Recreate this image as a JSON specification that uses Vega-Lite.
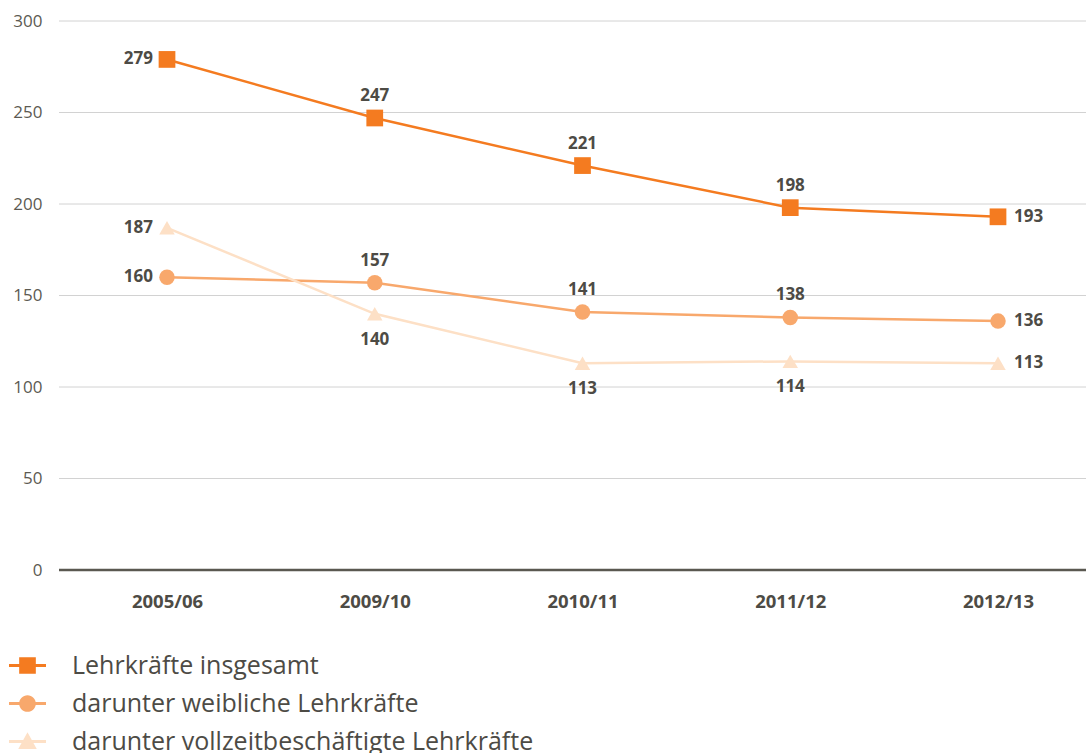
{
  "$schema": "https://vega.github.io/schema/vega-lite/v6.json",
  "width": 1027,
  "height": 549,
  "autosize": "none",
  "padding": {"left": 59, "top": 21, "right": 0, "bottom": 183},
  "config": {"view": {"stroke": null}, "font": "Open Sans"},
  "datasets": {
    "werte": [
      {"jahr": "2005/06", "reihe": "Lehrkräfte insgesamt", "wert": 279},
      {"jahr": "2009/10", "reihe": "Lehrkräfte insgesamt", "wert": 247},
      {"jahr": "2010/11", "reihe": "Lehrkräfte insgesamt", "wert": 221},
      {"jahr": "2011/12", "reihe": "Lehrkräfte insgesamt", "wert": 198},
      {"jahr": "2012/13", "reihe": "Lehrkräfte insgesamt", "wert": 193},
      {"jahr": "2005/06", "reihe": "darunter weibliche Lehrkräfte", "wert": 160},
      {"jahr": "2009/10", "reihe": "darunter weibliche Lehrkräfte", "wert": 157},
      {"jahr": "2010/11", "reihe": "darunter weibliche Lehrkräfte", "wert": 141},
      {"jahr": "2011/12", "reihe": "darunter weibliche Lehrkräfte", "wert": 138},
      {"jahr": "2012/13", "reihe": "darunter weibliche Lehrkräfte", "wert": 136},
      {"jahr": "2005/06", "reihe": "darunter vollzeitbeschäftigte Lehrkräfte", "wert": 187},
      {"jahr": "2009/10", "reihe": "darunter vollzeitbeschäftigte Lehrkräfte", "wert": 140},
      {"jahr": "2010/11", "reihe": "darunter vollzeitbeschäftigte Lehrkräfte", "wert": 113},
      {"jahr": "2011/12", "reihe": "darunter vollzeitbeschäftigte Lehrkräfte", "wert": 114},
      {"jahr": "2012/13", "reihe": "darunter vollzeitbeschäftigte Lehrkräfte", "wert": 113}
    ],
    "gitter": [
      {"wert": 50}, {"wert": 100}, {"wert": 150}, {"wert": 200}, {"wert": 250}, {"wert": 300}
    ],
    "basis": [{"wert": 0}]
  },
  "data": {"name": "werte"},
  "encoding": {
    "y": {
      "field": "wert", "type": "quantitative",
      "scale": {"domain": [0, 300], "nice": false},
      "axis": {"title": null, "domain": false, "ticks": false, "grid": false, "values": [0, 50, 100, 150, 200, 250, 300],
               "labelPadding": 17, "labelFontSize": 17, "labelColor": "#5c5a52"}
    }
  },
  "layer": [
    {
      "data": {"name": "gitter"},
      "mark": {"type": "rule", "color": "#d2d2d2", "strokeWidth": 1},
      "encoding": {}
    },
    {
      "data": {"name": "basis"},
      "mark": {"type": "rule", "color": "#5a5850", "strokeWidth": 2.5},
      "encoding": {}
    },
    {
      "encoding": {
        "x": {
          "field": "jahr", "type": "ordinal", "sort": null,
          "scale": {"type": "point", "padding": 0, "range": [108, 939]},
          "axis": {"title": null, "domain": false, "ticks": false, "grid": false, "labelAngle": 0,
                   "labelPadding": 22, "labelFontSize": 18.5, "labelFontWeight": "bold", "labelColor": "#4d4b45"}
        },
        "color": {
          "field": "reihe", "type": "nominal",
          "scale": {"domain": ["Lehrkräfte insgesamt", "darunter weibliche Lehrkräfte", "darunter vollzeitbeschäftigte Lehrkräfte"],
                    "range": ["#f47b20", "#f8a86c", "#fde0c6"]},
          "legend": {
            "title": null, "orient": "none", "legendX": -50, "legendY": 626, "direction": "vertical",
            "symbolSize": 1369, "labelFontSize": 25, "labelColor": "#4d4b45", "labelOffset": 26, "rowPadding": 6,
            "labelLimit": 800,
            "encode": {
              "symbols": {
                "update": {
                  "shape": {"signal": "datum.value === 'Lehrkräfte insgesamt' ? 'M-1,-0.08H1V0.08H-1Z M-0.45,-0.45H0.45V0.45H-0.45Z' : datum.value === 'darunter weibliche Lehrkräfte' ? 'M-1,-0.08H1V0.08H-1Z M-0.45,0A0.45,0.45 0 1,1 0.45,0A0.45,0.45 0 1,1 -0.45,0Z' : 'M-1,-0.08H1V0.08H-1Z M0,-0.5L0.5,0.4H-0.5Z'"},
                  "fill": {"signal": "scale('color', datum.value)"},
                  "strokeWidth": {"value": 0},
                  "opacity": {"value": 1}
                }
              }
            }
          }
        }
      },
      "layer": [
        {"mark": {"type": "line", "strokeWidth": 2.5}},
        {
          "transform": [{"filter": "datum.reihe === 'Lehrkräfte insgesamt'"}],
          "mark": {"type": "point", "filled": true, "opacity": 1, "size": 280, "shape": "square"}
        },
        {
          "transform": [{"filter": "datum.reihe === 'darunter weibliche Lehrkräfte'"}],
          "mark": {"type": "point", "filled": true, "opacity": 1, "size": 240, "shape": "circle"}
        },
        {
          "transform": [{"filter": "datum.reihe === 'darunter vollzeitbeschäftigte Lehrkräfte'"}],
          "mark": {"type": "point", "filled": true, "opacity": 1, "size": 240, "shape": "triangle-up"}
        },
        {
          "transform": [{"filter": "datum.jahr === '2005/06'"}],
          "mark": {"type": "text", "align": "right", "baseline": "middle", "dx": -14, "fontSize": 17, "fontWeight": "bold"},
          "encoding": {"text": {"field": "wert", "type": "quantitative"}, "color": {"value": "#4d4b45"}}
        },
        {
          "transform": [{"filter": "datum.jahr === '2012/13'"}],
          "mark": {"type": "text", "align": "left", "baseline": "middle", "dx": 16, "fontSize": 17, "fontWeight": "bold"},
          "encoding": {"text": {"field": "wert", "type": "quantitative"}, "color": {"value": "#4d4b45"}}
        },
        {
          "transform": [{"filter": "datum.jahr !== '2005/06' && datum.jahr !== '2012/13' && datum.reihe !== 'darunter vollzeitbeschäftigte Lehrkräfte'"}],
          "mark": {"type": "text", "align": "center", "baseline": "middle", "dy": -22, "fontSize": 17, "fontWeight": "bold"},
          "encoding": {"text": {"field": "wert", "type": "quantitative"}, "color": {"value": "#4d4b45"}}
        },
        {
          "transform": [{"filter": "datum.jahr !== '2005/06' && datum.jahr !== '2012/13' && datum.reihe === 'darunter vollzeitbeschäftigte Lehrkräfte'"}],
          "mark": {"type": "text", "align": "center", "baseline": "middle", "dy": 26, "fontSize": 17, "fontWeight": "bold"},
          "encoding": {"text": {"field": "wert", "type": "quantitative"}, "color": {"value": "#4d4b45"}}
        }
      ]
    }
  ]
}
